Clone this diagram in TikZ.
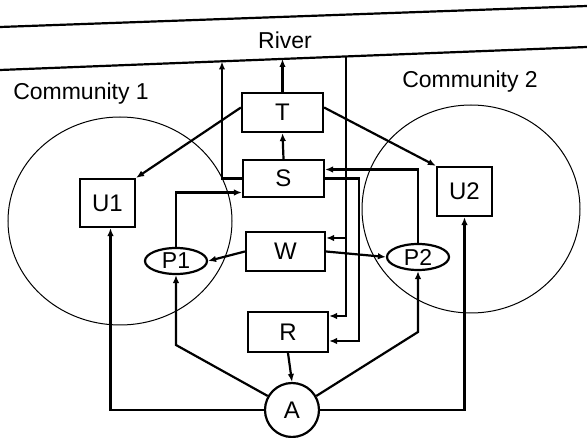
\documentclass[tikz,border=0pt]{standalone}
\usepackage{fontspec}
\setmainfont{Liberation Sans}
\usetikzlibrary{arrows.meta,shapes.geometric}
\tikzset{
  box/.style={draw, line width=2.2pt, rectangle, inner sep=0pt, font=\fontsize{24}{27}\selectfont},
  oval/.style={draw, line width=2.2pt, ellipse, inner sep=0pt, minimum width=62pt, minimum height=26pt, font=\fontsize{23}{26}\selectfont},
  comm/.style={draw, line width=1pt, ellipse, inner sep=0pt},
  lbl/.style={font=\fontsize{23}{26}\selectfont, inner sep=0pt},
  ln/.style={line width=2.2pt},
  arr/.style={line width=2.2pt, -{Latex[length=8pt,width=6.5pt]}}
}
\begin{document}
\begin{tikzpicture}[x=1pt,y=-1pt]
\useasboundingbox (0,0) rectangle (587,438);
% river banks
\coordinate (rb1) at (0,27);
\coordinate (rb2) at (587,6);
\coordinate (rb3) at (0,70);
\coordinate (rb4) at (587,47);
\draw[ln] (rb1) -- (rb2);
\draw[ln] (rb3) -- (rb4);
\node[lbl] (river) at (285,40) {River};
% communities
\node[comm, minimum width=224pt, minimum height=208pt] (C1) at (120,221) {};
\node[comm, minimum width=218pt, minimum height=208pt] (C2) at (471,209) {};
\node[lbl] (c1l) at (81,94) {Community 1};
\node[lbl] (c2l) at (470,82) {Community 2};
% boxes
\node[box, minimum width=81pt, minimum height=39pt] (T) at (282.5,112.5) {T};
\node[box, minimum width=81pt, minimum height=37pt] (S) at (283.5,178.5) {S};
\node[box, minimum width=79pt, minimum height=39pt] (W) at (285.5,251.5) {W};
\node[box, minimum width=80pt, minimum height=40pt] (R) at (288,332) {R};
\node[box, minimum width=55pt, minimum height=48pt] (U1) at (107.5,203) {U1};
\node[box, minimum width=55pt, minimum height=49pt] (U2) at (464.5,191.5) {U2};
\node[oval] (P1) at (176,261) {P1};
\node[oval] (P2) at (418,257) {P2};
\node[draw, line width=2.2pt, circle, minimum size=54pt, inner sep=0pt, font=\fontsize{24}{27}\selectfont] (A) at (292,410) {A};
% river coordinates
\coordinate (rT) at (282.5,59);
\coordinate (rS) at (222,61.5);
\coordinate (rW) at (346,56.5);
% connectors
\draw[arr] (T.north) -- (rT);
\draw[arr] (S.north) -- (T.south);
\draw[arr] (S.west) -| (rS);
\draw[arr] ([yshift=5pt]T.west) -- (U1.north east);
\draw[arr] ([yshift=5pt]T.east) -- (U2.north west);
\draw[arr] (P1.north) |- ([yshift=-14pt]S.west);
\draw[arr] (P2.north) |- ([yshift=9pt]S.east);
\draw[arr] (S.east) -- ++(34,0) |- ([yshift=-9pt]R.east);
\draw[arr] (rW) |- ([yshift=16pt]R.east);
\draw[arr] (346,238) -- ([yshift=13.5pt]W.east);
\draw[arr] (W.west) -- (P1.east);
\draw[arr] (W.east) -- (P2.west);
\draw[arr] (R.south) -- (A.north);
\draw[arr] (A.150) -- (176,345) -- (P1.south);
\draw[arr] (A.30) -- (418,332) -- (P2.south);
\draw[arr] (A.west) -| ([xshift=3pt]U1.south);
\draw[arr] (A.east) -| (U2.south);
\end{tikzpicture}
\end{document}
